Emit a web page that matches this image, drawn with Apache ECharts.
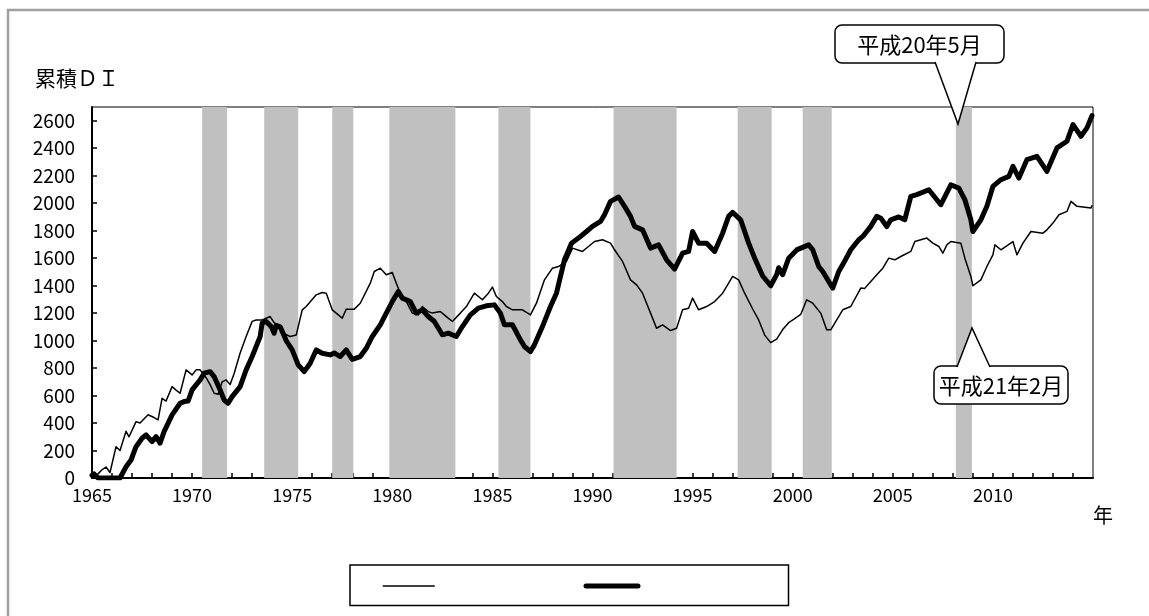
<!DOCTYPE html>
<html>
<head>
<meta charset="utf-8">
<script src="https://cdn.jsdelivr.net/npm/echarts@6/dist/echarts.min.js"></script>
<style>
  html, body { margin: 0; padding: 0; background: #fff; }
  #chart { width: 1149px; height: 616px; }
</style>
</head>
<body>
<div id="chart"></div>
<script>
// 景気後退期（シャドー）: [開始, 終了]（年, 小数）
const bandStarts = [1970.5, 1973.6, 1977.0, 1979.85, 1985.3, 1991.05, 1997.25, 2000.5, 2008.15]
const bandEnds   = [1971.75, 1975.3, 1978.05, 1983.15, 1986.9, 1994.2, 1998.95, 2001.95, 2008.95]

// 細線の系列 [年, 累積DI]
const thinSeries = [
  [1965.0, 0], [1965.3, 30], [1965.5, 60], [1965.7, 80], [1965.9, 40], [1966.2, 228], [1966.4, 200],
  [1966.7, 340], [1966.85, 300], [1967.2, 410], [1967.4, 400], [1967.8, 460], [1968.1, 440], [1968.3, 423],
  [1968.5, 580], [1968.7, 560], [1969.0, 665], [1969.2, 640], [1969.4, 617], [1969.7, 787], [1970.0, 750],
  [1970.2, 787], [1970.4, 787], [1970.7, 730], [1970.9, 680], [1971.1, 617], [1971.3, 610], [1971.5, 700],
  [1971.7, 714], [1971.9, 680], [1972.1, 760], [1972.4, 910], [1972.7, 1030], [1973.0, 1140], [1973.2, 1150],
  [1973.5, 1150], [1973.9, 1175], [1974.1, 1130], [1974.3, 1110], [1974.6, 1050], [1974.9, 1030], [1975.2, 1040],
  [1975.5, 1224], [1975.7, 1248], [1976.2, 1333], [1976.5, 1350], [1976.7, 1345], [1977.0, 1224], [1977.5, 1163],
  [1977.7, 1229], [1978.1, 1229], [1978.4, 1272], [1978.9, 1418], [1979.1, 1503], [1979.4, 1527], [1979.7, 1479],
  [1980.0, 1496], [1980.2, 1418], [1980.4, 1345], [1980.7, 1284], [1981.0, 1200], [1981.3, 1187], [1981.5, 1248],
  [1981.8, 1211], [1982.0, 1200], [1982.4, 1211], [1982.7, 1175], [1983.0, 1139], [1983.4, 1200], [1983.7, 1248],
  [1984.1, 1345], [1984.5, 1297], [1984.8, 1345], [1985.0, 1389], [1985.2, 1321], [1985.5, 1284], [1985.7, 1248],
  [1986.0, 1224], [1986.5, 1224], [1986.9, 1187], [1987.2, 1272], [1987.6, 1442], [1988.0, 1527], [1988.3, 1539],
  [1988.7, 1576], [1989.0, 1673], [1989.5, 1649], [1989.8, 1685], [1990.1, 1721], [1990.5, 1734], [1990.9, 1709],
  [1991.1, 1661], [1991.5, 1576], [1991.9, 1442], [1992.2, 1406], [1992.5, 1345], [1992.9, 1200], [1993.2, 1090],
  [1993.5, 1115], [1993.9, 1073], [1994.2, 1090], [1994.5, 1224], [1994.8, 1236], [1995.0, 1309], [1995.3, 1224],
  [1995.7, 1248], [1996.1, 1284], [1996.5, 1345], [1996.8, 1418], [1997.0, 1467], [1997.3, 1442], [1997.6, 1345],
  [1998.0, 1230], [1998.3, 1150], [1998.6, 1040], [1998.9, 985], [1999.2, 1010], [1999.5, 1080], [1999.8, 1130],
  [2000.1, 1160], [2000.4, 1190], [2000.7, 1297], [2001.0, 1272], [2001.4, 1200], [2001.7, 1078], [2001.9, 1078],
  [2002.2, 1151], [2002.5, 1224], [2002.9, 1248], [2003.4, 1382], [2003.6, 1380], [2003.9, 1430], [2004.2, 1479],
  [2004.5, 1527], [2004.8, 1600], [2005.1, 1588], [2005.4, 1612], [2005.9, 1649], [2006.1, 1721], [2006.4, 1734],
  [2006.7, 1746], [2007.0, 1709], [2007.3, 1685], [2007.5, 1636], [2007.7, 1697], [2007.9, 1721], [2008.4, 1709],
  [2008.6, 1600], [2008.9, 1467], [2009.0, 1399], [2009.4, 1442], [2009.7, 1539], [2010.0, 1624], [2010.1, 1697],
  [2010.4, 1661], [2011.0, 1721], [2011.2, 1624], [2011.5, 1709], [2011.9, 1794], [2012.5, 1782], [2012.7, 1806],
  [2013.0, 1855], [2013.3, 1916], [2013.7, 1940], [2013.9, 2013], [2014.2, 1977], [2014.9, 1965], [2014.95, 1985]
]

// 太線の系列 [年, 累積DI]
const thickSeries = [
  [1965.0, 20], [1965.1, 30], [1965.3, 0], [1966.4, 0], [1966.7, 82], [1966.95, 131], [1967.2, 228],
  [1967.5, 289], [1967.7, 313], [1968.0, 265], [1968.2, 301], [1968.4, 253], [1968.6, 337], [1969.0, 459],
  [1969.4, 544], [1969.6, 556], [1969.8, 560], [1970.0, 641], [1970.4, 714], [1970.6, 763], [1970.9, 774],
  [1971.1, 738], [1971.4, 641], [1971.6, 568], [1971.8, 544], [1972.0, 592], [1972.4, 665], [1972.7, 787],
  [1973.0, 884], [1973.4, 1030], [1973.5, 1127], [1973.7, 1139], [1973.95, 1102], [1974.1, 1054], [1974.2, 1110],
  [1974.4, 1100], [1974.7, 1000], [1975.0, 932], [1975.3, 823], [1975.6, 774], [1975.9, 835], [1976.2, 932],
  [1976.5, 908], [1976.9, 896], [1977.1, 910], [1977.4, 884], [1977.7, 932], [1978.0, 864], [1978.4, 884],
  [1978.7, 944], [1979.0, 1030], [1979.4, 1115], [1979.7, 1200], [1980.0, 1284], [1980.3, 1357], [1980.5, 1309],
  [1980.9, 1284], [1981.2, 1200], [1981.5, 1224], [1981.8, 1175], [1982.1, 1139], [1982.5, 1042], [1982.8, 1054],
  [1983.2, 1030], [1983.5, 1102], [1983.9, 1187], [1984.3, 1236], [1984.7, 1253], [1985.1, 1260], [1985.4, 1200],
  [1985.6, 1115], [1986.0, 1115], [1986.4, 1005], [1986.6, 957], [1986.9, 920], [1987.1, 969], [1987.5, 1102],
  [1987.9, 1248], [1988.2, 1345], [1988.6, 1588], [1988.95, 1709], [1989.3, 1746], [1989.7, 1794], [1990.0, 1831],
  [1990.4, 1867], [1990.6, 1916], [1990.9, 2013], [1991.3, 2045], [1991.6, 1977], [1991.9, 1904], [1992.1, 1831],
  [1992.5, 1806], [1992.9, 1673], [1993.3, 1697], [1993.7, 1588], [1994.1, 1520], [1994.5, 1636], [1994.8, 1649],
  [1995.0, 1794], [1995.3, 1709], [1995.7, 1709], [1996.1, 1649], [1996.5, 1782], [1996.8, 1904], [1997.0, 1933],
  [1997.4, 1879], [1997.8, 1709], [1998.1, 1600], [1998.5, 1470], [1998.9, 1399], [1999.2, 1480], [1999.3, 1530],
  [1999.5, 1480], [1999.8, 1600], [2000.2, 1660], [2000.4, 1673], [2000.8, 1697], [2001.0, 1661], [2001.3, 1539],
  [2001.5, 1503], [2001.8, 1430], [2002.0, 1382], [2002.3, 1503], [2002.6, 1580], [2002.9, 1661], [2003.3, 1734],
  [2003.5, 1758], [2003.9, 1831], [2004.2, 1904], [2004.4, 1891], [2004.7, 1830], [2004.9, 1879], [2005.3, 1900],
  [2005.6, 1880], [2005.9, 2049], [2006.2, 2062], [2006.8, 2098], [2007.4, 1989], [2007.9, 2134], [2008.3, 2110],
  [2008.6, 2025], [2008.9, 1879], [2009.0, 1794], [2009.4, 1879], [2009.7, 1977], [2010.0, 2122], [2010.4, 2171],
  [2010.8, 2195], [2011.0, 2268], [2011.3, 2183], [2011.7, 2317], [2012.2, 2341], [2012.7, 2232], [2013.2, 2402],
  [2013.7, 2451], [2014.0, 2572], [2014.4, 2487], [2014.7, 2548], [2014.95, 2637]
]

const seriesNames = ['系列1', '系列2']
const yearLabels = [1965, 1970, 1975, 1980, 1985, 1990, 1995, 2000, 2005, 2010]

const FONT = '"Noto Sans CJK JP", "Noto Sans", sans-serif'

const chart = echarts.init(document.getElementById('chart'))

// 吹き出し（枠＋三角のしっぽ）
const callout = (box, tail, text) => [
  {
    type: 'rect',
    shape: { x: box[0], y: box[1], width: box[2], height: box[3], r: 7 },
    style: { fill: '#fff', stroke: '#000', lineWidth: 1.5 },
    z: 100
  },
  {
    type: 'polygon',
    shape: { points: tail },
    style: { fill: '#fff', stroke: null },
    z: 101
  },
  {
    type: 'polyline',
    shape: { points: tail },
    style: { stroke: '#000', lineWidth: 1.5, fill: null },
    z: 102
  },
  {
    type: 'text',
    style: {
      text: text, x: box[0] + box[2] / 2, y: box[1] + box[3] / 2 + 1,
      align: 'center', verticalAlign: 'middle',
      font: '22px ' + FONT, fill: '#000'
    },
    z: 103
  }
]

chart.setOption({
  animation: false,
  backgroundColor: '#fff',
  textStyle: { fontFamily: FONT, color: '#000' },
  title: {
    text: '累積ＤＩ',
    left: 30,
    top: 63,
    textStyle: { fontSize: 21, fontWeight: 'normal', color: '#000', fontFamily: FONT }
  },
  grid: { left: 92, right: 56, top: 107, bottom: 138, show: true, borderColor: '#000', borderWidth: 1 },
  legend: {
    left: 350,
    top: 565,
    orient: 'horizontal',
    padding: [14, 148, 14, 32],
    itemWidth: 52,
    itemHeight: 14,
    itemGap: 148,
    borderColor: '#000',
    borderWidth: 1.5,
    formatter: () => '',
    itemStyle: { opacity: 0, borderWidth: 0 },
    data: [
      { name: seriesNames[0], itemStyle: { opacity: 0 }, lineStyle: { width: 1.5, color: '#000' } },
      { name: seriesNames[1], itemStyle: { opacity: 0 }, lineStyle: { width: 5, color: '#000', cap: 'round' } }
    ]
  },
  xAxis: {
    type: 'value',
    min: 1965,
    max: 2015,
    interval: 1,
    name: '年',
    nameLocation: 'end',
    nameGap: 0,
    nameTextStyle: { fontSize: 20, color: '#000', verticalAlign: 'top', align: 'left', padding: [27, 0, 0, 0], fontFamily: FONT },
    axisLine: { lineStyle: { color: '#000', width: 2 } },
    axisTick: { inside: true, length: 5, lineStyle: { color: '#000', width: 1.5 } },
    splitLine: { show: false },
    axisLabel: {
      color: '#000',
      fontSize: 18,
      margin: 8,
      showMaxLabel: false,
      formatter: (v) => (yearLabels.includes(v) ? String(v) : '')
    }
  },
  yAxis: {
    type: 'value',
    min: 0,
    max: 2700,
    interval: 200,
    axisLine: { show: true, lineStyle: { color: '#000', width: 2 } },
    axisTick: { show: true, inside: true, length: 5, lineStyle: { color: '#000', width: 1.5 } },
    splitLine: { show: false },
    axisLabel: {
      color: '#000',
      fontSize: 19,
      margin: 17,
      showMaxLabel: false,
      formatter: (v) => String(v)
    }
  },
  series: [
    {
      name: 'bands',
      type: 'line',
      data: [],
      silent: true,
      z: 1,
      markArea: {
        silent: true,
        itemStyle: { color: '#c0c0c0' },
        data: bandStarts.map((s, i) => [{ xAxis: s }, { xAxis: bandEnds[i] }])
      }
    },
    {
      name: seriesNames[0],
      type: 'line',
      data: thinSeries,
      showSymbol: false,
      symbol: 'none',
      z: 3,
      lineStyle: { color: '#000', width: 1.5, join: 'round' }
    },
    {
      name: seriesNames[1],
      type: 'line',
      data: thickSeries,
      showSymbol: false,
      symbol: 'none',
      z: 4,
      lineStyle: { color: '#000', width: 5, join: 'round', cap: 'round' }
    }
  ],
  graphic: [
    {
      type: 'rect',
      shape: { x: 8, y: 10, width: 1200, height: 620 },
      style: { fill: null, stroke: '#a0a0a0', lineWidth: 2.5 },
      silent: true,
      z: 0
    },
    ...callout([835, 25, 169, 38], [[935, 62], [958, 124], [976, 62]], '平成20年5月'),
    ...callout([934, 366, 134, 38], [[957, 367], [972, 328], [990, 367]], '平成21年2月')
  ]
})
</script>
</body>
</html>
